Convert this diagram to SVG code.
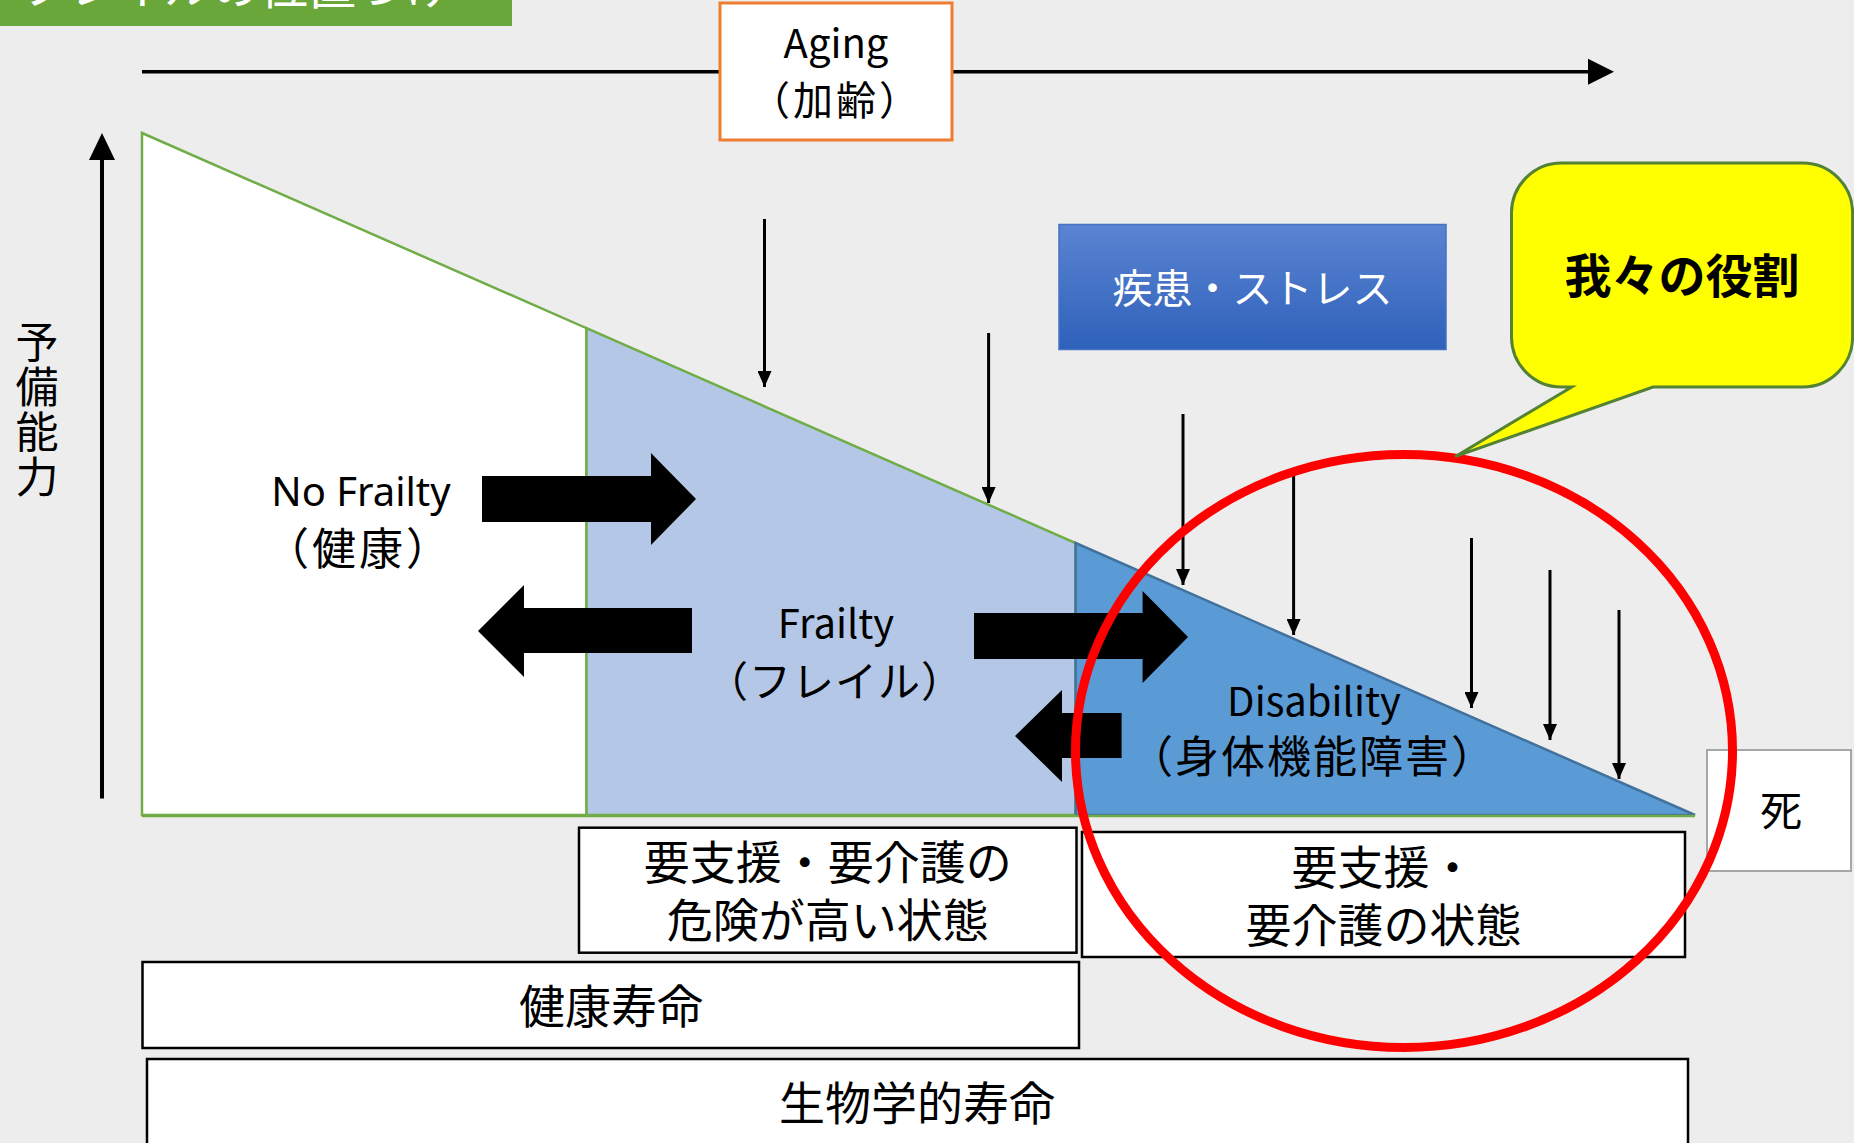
<svg xmlns="http://www.w3.org/2000/svg" width="1854" height="1143" viewBox="0 0 1854 1143">
<defs>
<style>
.jp{font-family:"Noto Sans CJK JP","Noto Sans",sans-serif;fill:#000;}
.lat{font-family:"Noto Sans","Noto Sans CJK JP",sans-serif;fill:#000;}
.box{fill:#fff;stroke:#000;stroke-width:2.5;}
.thin{stroke:#000;stroke-width:3;fill:none;marker-end:url(#ah);}
.blk{fill:#000;}
</style>
<marker id="ah" markerUnits="userSpaceOnUse" markerWidth="16" markerHeight="14" refX="16" refY="7" orient="auto">
<path d="M0,0 L16,7 L0,14 z" fill="#000"/>
</marker>
<linearGradient id="bg1" x1="0" y1="0" x2="0" y2="1">
<stop offset="0" stop-color="#5B84D2"/>
<stop offset="1" stop-color="#2E61BA"/>
</linearGradient>
</defs>
<rect x="0" y="0" width="1854" height="1143" fill="#EDEDED"/>
<g id="title">
<rect x="0" y="0" width="512" height="26" fill="#6AA73A"/>
<text x="20" y="4" class="jp" font-size="48" style="fill:#fff">フレイルの位置づけ</text>
</g>
<g id="regions">
<polygon id="noFrailtyArea" points="142,133 586.5,328.2 586.5,815 142,815" fill="#fff" stroke="#70AD47" stroke-width="2.5"/>
<polygon id="frailtyArea" points="586.5,328.2 1075.6,543 1075.6,815 586.5,815" fill="#B4C7E7" stroke="#70AD47" stroke-width="2.5"/>
<polygon id="disabilityArea" points="1075.6,543 1695,815 1075.6,815" fill="#5B9BD5" stroke="#41719C" stroke-width="2.5"/>
<line x1="142" y1="816" x2="1695" y2="816" stroke="#70AD47" stroke-width="2.5"/>
</g>
<g id="connectors">
<line x1="142" y1="71.7" x2="1590" y2="71.7" stroke="#000" stroke-width="3.5"/>
<polygon points="1588,58.7 1614,71.7 1588,84.7" class="blk"/>
<line x1="102" y1="798.6" x2="102" y2="158" stroke="#000" stroke-width="4"/>
<polygon points="89,160 102,133 115,160" class="blk"/>
<line class="thin" x1="764.5" y1="219" x2="764.5" y2="387"/>
<line class="thin" x1="988.6" y1="333" x2="988.6" y2="503"/>
<line class="thin" x1="1183" y1="414" x2="1183" y2="585"/>
<line class="thin" x1="1293.6" y1="476" x2="1293.6" y2="635"/>
<line class="thin" x1="1471.5" y1="538" x2="1471.5" y2="708"/>
<line class="thin" x1="1550" y1="570" x2="1550" y2="740"/>
<line class="thin" x1="1619" y1="610" x2="1619" y2="779"/>
<polygon class="blk" points="482,476 651,476 651,453 696,499 651,545 651,522 482,522"/>
<polygon class="blk" points="692,608 524,608 524,585 478,631 524,677 524,653 692,653"/>
<polygon class="blk" points="974,613 1142.6,613 1142.6,591 1188,637 1142.6,683 1142.6,659 974,659"/>
<polygon class="blk" points="1121.6,713 1062,713 1062,690 1015,736 1062,782 1062,758 1121.6,758"/>
</g>
<g id="aging">
<rect x="720" y="3" width="232" height="137" fill="#fff" stroke="#ED7D31" stroke-width="3"/>
<text class="jp" font-size="40" text-anchor="middle"><tspan x="836" y="58">Aging</tspan><tspan x="836" y="115" letter-spacing="3">（加齢）</tspan></text>
</g>
<g id="yaxisLabel">
<text x="37" y="320" class="jp" font-size="43" writing-mode="tb" letter-spacing="2">予備能力</text>
</g>
<g id="noFrailty">
<text class="lat" font-size="40" text-anchor="middle"><tspan x="361" y="506">No Frailty</tspan><tspan x="359" y="565" font-size="44" letter-spacing="3" style="font-family:'Noto Sans CJK JP',sans-serif">（健康）</tspan></text>
</g>
<g id="frailty">
<text class="jp" font-size="40" text-anchor="middle"><tspan x="836" y="638">Frailty</tspan><tspan x="835" y="697" font-size="42" letter-spacing="1">（フレイル）</tspan></text>
</g>
<g id="disability">
<text class="jp" font-size="40" text-anchor="middle"><tspan x="1314" y="716">Disability</tspan><tspan x="1313" y="773" font-size="44" letter-spacing="2">（身体機能障害）</tspan></text>
</g>
<g id="stress">
<rect x="1059" y="224.5" width="387" height="125" fill="url(#bg1)" stroke="#4472C4" stroke-width="1.5"/>
<text x="1252.5" y="303" class="jp" font-size="40" text-anchor="middle" style="fill:#fff">疾患・ストレス</text>
</g>
<g id="death">
<rect x="1707" y="750" width="144" height="121" fill="#fff" stroke="#A6A6A6" stroke-width="2"/>
<text x="1781" y="826" class="jp" font-size="42" text-anchor="middle">死</text>
</g>
<g id="highRisk">
<rect class="box" x="579" y="827.7" width="497.5" height="125"/>
<text class="jp" font-size="46" text-anchor="middle"><tspan x="827.7" y="879">要支援・要介護の</tspan><tspan x="827.7" y="937">危険が高い状態</tspan></text>
</g>
<g id="careNeeded">
<rect class="box" x="1082" y="832" width="603" height="125"/>
<text class="jp" font-size="46" text-anchor="middle"><tspan x="1383.5" y="884">要支援・</tspan><tspan x="1383.5" y="942">要介護の状態</tspan></text>
</g>
<g id="healthyLife">
<rect class="box" x="142.5" y="962" width="936.5" height="86"/>
<text x="611" y="1023" class="jp" font-size="46" text-anchor="middle">健康寿命</text>
</g>
<g id="bioLife">
<rect class="box" x="147" y="1059" width="1541" height="100"/>
<text x="917" y="1120" class="jp" font-size="46" text-anchor="middle">生物学的寿命</text>
</g>
<g id="focusCircle">
<ellipse cx="1404" cy="751" rx="328.5" ry="296.5" fill="none" stroke="#FF0000" stroke-width="9"/>
</g>
<g id="ourRole">
<path d="M1561.5,163 H1802.6 A50,50 0 0 1 1852.6,213 V337 A50,50 0 0 1 1802.6,387 H1653 L1455,456.7 L1571.7,387 H1561.5 A50,50 0 0 1 1511.5,337 V213 A50,50 0 0 1 1561.5,163 Z" fill="#FFFF00" stroke="#548235" stroke-width="3"/>
<text x="1682" y="293" class="jp" font-size="47" font-weight="bold" text-anchor="middle">我々の役割</text>
</g>
</svg>
